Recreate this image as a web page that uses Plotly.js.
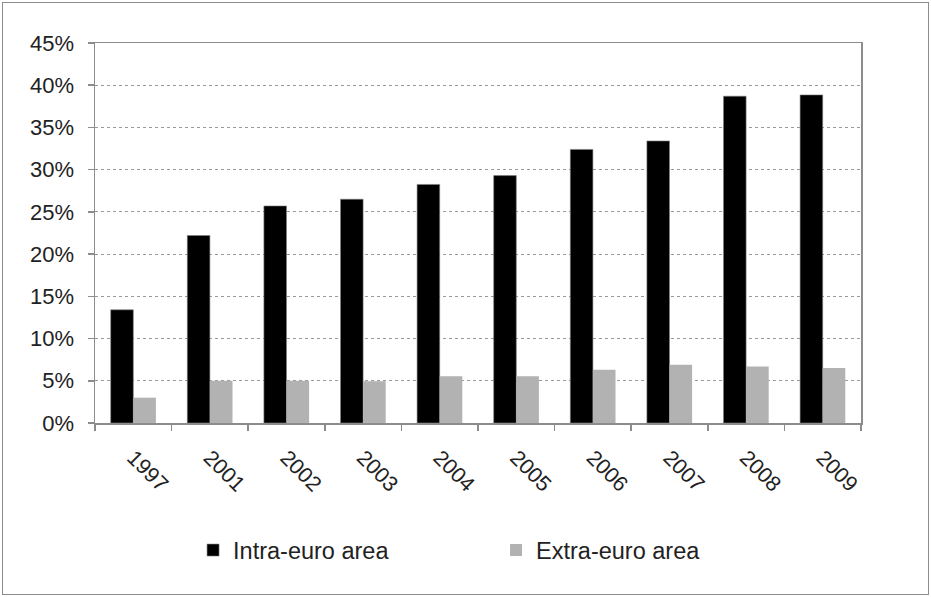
<!DOCTYPE html>
<html>
<head>
<meta charset="utf-8">
<script src="https://cdn.plot.ly/plotly-3.0.1.min.js"></script>
<style>
  html, body { margin: 0; padding: 0; background: #fff; }
  #frame { position: absolute; left: 2px; top: 2px; width: 925px; height: 591px; border: 1px solid #8c8c8c; }
  #chart { position: absolute; left: 0; top: 0; width: 931px; height: 597px; }
</style>
</head>
<body>
<div id="frame"></div>
<div id="chart"></div>
<script>
const years = ['1997','2001','2002','2003','2004','2005','2006','2007','2008','2009'];
const intraEuro = [0.134, 0.222, 0.257, 0.265, 0.2825, 0.293, 0.324, 0.334, 0.387, 0.3885];
const extraEuro = [0.030, 0.050, 0.050, 0.0495, 0.0555, 0.0555, 0.063, 0.069, 0.067, 0.065];
const seriesNames = ['Intra-euro area', 'Extra-euro area'];

const traces = [
  { type: 'bar', name: seriesNames[0], x: years, y: intraEuro,
    marker: { color: '#000000', line: { color: '#7f7f7f', width: 0.6 } } },
  { type: 'bar', name: seriesNames[1], x: years, y: extraEuro,
    marker: { color: '#b2b2b2', line: { width: 0 } } }
];

const layout = {
  width: 931, height: 597,
  paper_bgcolor: 'rgba(0,0,0,0)', plot_bgcolor: '#fff',
  margin: { l: 95, r: 70, t: 43, b: 174 },
  font: { family: '"Liberation Sans", Arial, sans-serif', color: '#222', size: 20 },
  barmode: 'group', bargap: 0.41, bargroupgap: 0,
  showlegend: true,
  legend: {
    orientation: 'h', x: 0.128, xanchor: 'left', y: -0.335, yanchor: 'middle',
    font: { size: 23.5, color: '#222' }, entrywidth: 258, entrywidthmode: 'pixels',
    itemwidth: 30, traceorder: 'normal'
  },
  xaxis: {
    type: 'category', tickangle: 45,
    showline: true, linecolor: '#8c8c8c', linewidth: 1.5, mirror: true,
    ticks: 'outside', ticklen: 6, tickcolor: '#8c8c8c', tickwidth: 1.5,
    tickson: 'boundaries', showgrid: false, ticklabelstandoff: 12,
    tickfont: { size: 21.5, color: '#222' }
  },
  yaxis: {
    range: [0, 0.45], dtick: 0.05, tickformat: '.0%',
    showline: true, linecolor: '#8c8c8c', linewidth: 1.5, mirror: true,
    ticks: 'outside', ticklen: 6, tickcolor: '#8c8c8c', tickwidth: 1.5,
    showgrid: true, gridcolor: '#9a9a9a', gridwidth: 1, griddash: 'dot',
    zeroline: false, ticklabelstandoff: 9, tickfont: { size: 22, color: '#222' }
  }
};

Plotly.newPlot('chart', traces, layout, { displayModeBar: false, staticPlot: true });
</script>
</body>
</html>
